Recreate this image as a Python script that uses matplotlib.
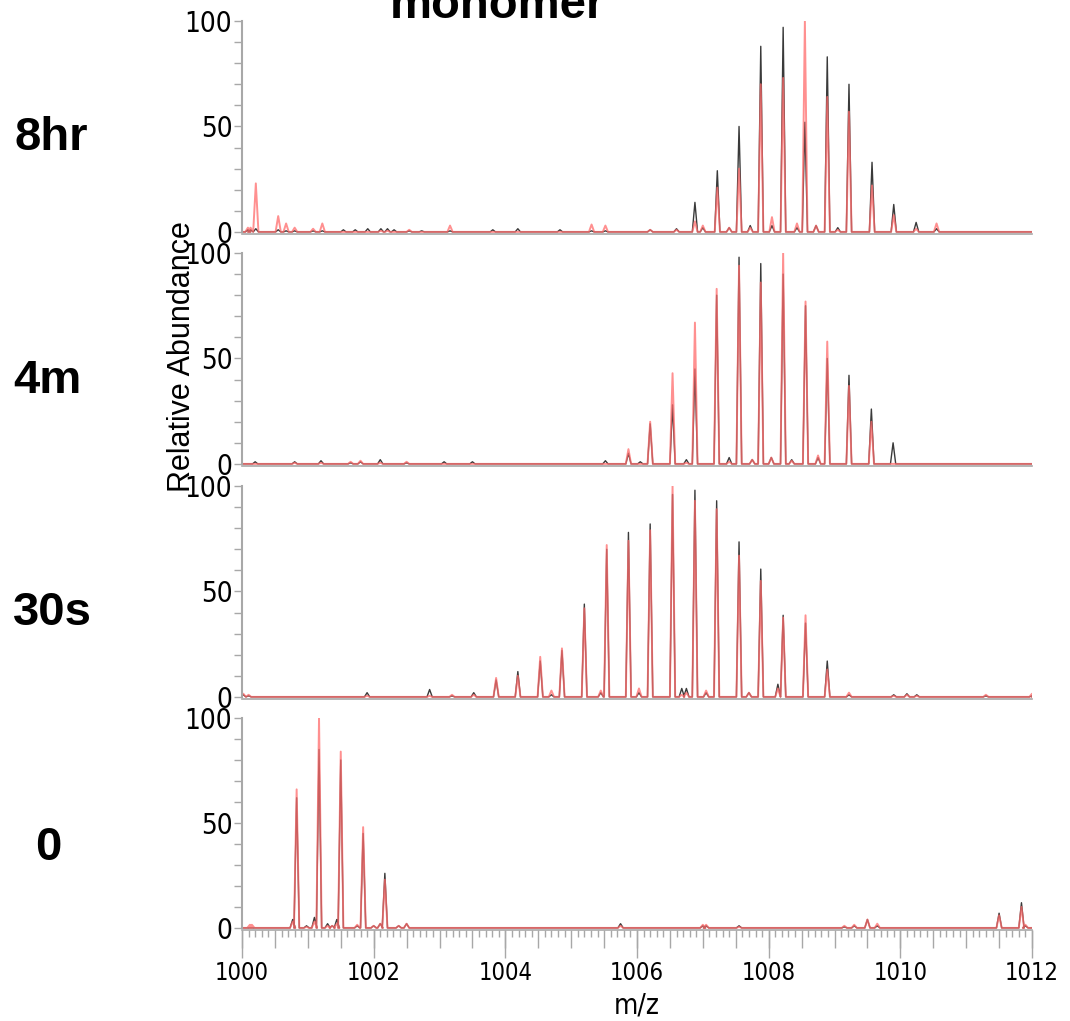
import numpy as np
import matplotlib
matplotlib.use("Agg")
import matplotlib.pyplot as plt
from matplotlib.ticker import MultipleLocator, FuncFormatter

# time points, top to bottom
labels = ["8hr", "4m", "30s", "0"]

# peak lists: m/z, black trace height, red trace height
mz_8hr = [1000.09, 1000.13, 1000.21, 1000.55, 1000.67, 1000.80, 1001.08, 1001.22, 1001.54,
          1001.72, 1001.91, 1002.11, 1002.21, 1002.31, 1002.54, 1002.73, 1003.16, 1003.81,
          1004.19, 1004.83, 1005.31, 1005.52, 1006.20, 1006.60, 1006.88, 1007.00, 1007.22,
          1007.40, 1007.55, 1007.72, 1007.88, 1008.05, 1008.22, 1008.43, 1008.55, 1008.72,
          1008.89, 1009.05, 1009.22, 1009.57, 1009.90, 1010.24, 1010.55]
blk_8hr = [1, 1, 1.5, 1, 0.5, 0.5, 0.5, 0.5, 1, 1, 1.5, 1.5, 1.5, 1, 0.5, 0.5, 0.5, 1, 1.5, 1,
           0.5, 0.5, 1, 1.5, 14, 2, 29, 2, 50, 3, 88, 3, 97, 2, 52, 3, 83, 2, 70, 33, 13, 4.5, 1.5]
red_8hr = [2, 2, 23, 7.5, 4, 2, 1.5, 4, 0, 0, 0, 0.5, 0.5, 0, 1, 0, 3, 0, 0, 0, 3.5, 3, 1, 1,
           5, 3, 21, 2, 30, 2, 70, 7, 73, 4, 100, 3, 64, 1, 57, 22, 8, 1.5, 4]

mz_4m = [1000.20, 1000.80, 1001.20, 1001.65, 1001.80, 1002.10, 1002.50, 1003.07, 1003.50,
         1005.52, 1005.87, 1006.05, 1006.20, 1006.54, 1006.75, 1006.88, 1007.21, 1007.40,
         1007.55, 1007.75, 1007.88, 1008.04, 1008.22, 1008.35, 1008.56, 1008.75, 1008.89,
         1009.22, 1009.56, 1009.89]
blk_4m = [1, 1, 1.5, 0.5, 1, 2, 0.5, 1, 1, 1.5, 5, 1, 19, 28, 2, 45, 80, 3, 98, 2, 95, 3, 90,
          2, 75, 3, 50, 42, 26, 10]
red_4m = [0, 0.5, 0.5, 1, 1.5, 0.5, 1, 0, 0, 0, 7, 0, 20, 43, 0.5, 67, 83, 1, 94, 2, 86, 3,
          100, 1.5, 77, 4, 58, 37, 20, 0]

mz_30s = [1000.02, 1000.10, 1001.90, 1002.85, 1003.19, 1003.52, 1003.86, 1004.19, 1004.53,
          1004.70, 1004.86, 1005.20, 1005.45, 1005.54, 1005.87, 1006.03, 1006.20, 1006.54,
          1006.68, 1006.75, 1006.88, 1007.05, 1007.21, 1007.55, 1007.70, 1007.88, 1008.14,
          1008.22, 1008.56, 1008.89, 1009.22, 1009.90, 1010.10, 1010.25, 1011.30, 1012.00]
blk_30s = [1, 0.5, 2, 3.5, 0.5, 2, 8, 12, 17, 1, 22, 44, 2, 70, 78, 2, 82, 96, 4, 4, 98, 2, 93,
           73.5, 2, 60.6, 6, 38.7, 35, 17, 1, 1, 1.5, 1, 0.5, 0.5]
red_30s = [1.5, 1, 0.5, 0.5, 1, 1, 9, 10, 19, 3, 23, 42, 3, 72, 74, 4, 79, 100, 1, 2, 93, 3,
           89, 67, 2, 55, 4, 37.6, 38.7, 13, 2, 0.5, 1, 0.5, 1, 1.5]

mz_0 = [1000.12, 1000.15, 1000.77, 1000.83, 1000.98, 1001.10, 1001.17, 1001.30, 1001.37,
        1001.44, 1001.50, 1001.75, 1001.84, 1002.00, 1002.10, 1002.17, 1002.38, 1002.50,
        1005.75, 1007.00, 1007.05, 1007.55, 1009.15, 1009.30, 1009.50, 1009.65, 1011.50,
        1011.84, 1011.90]
blk_0 = [0, 0, 4, 62, 1, 5, 85, 2, 1, 4, 80, 1, 45, 1, 2, 26, 1, 2, 2, 1, 1, 1, 0.5, 1, 4, 1,
         7, 12, 1]
red_0 = [1.5, 1.5, 3, 66, 0.5, 3, 100, 1, 1, 2, 84, 1.5, 48, 1, 2, 23, 1, 2, 1, 1.5, 1.5, 0.5,
         1, 1.5, 4, 2, 6, 10, 1.5]

panels = [(mz_8hr, blk_8hr, red_8hr), (mz_4m, blk_4m, red_4m),
          (mz_30s, blk_30s, red_30s), (mz_0, blk_0, red_0)]

xmin, xmax = 1000, 1012
half_w = 0.04

tick_font = dict(family="DejaVu Sans", stretch="condensed")


def profile(mz, h):
    # narrow triangular peaks on a flat baseline
    xs, ys = [xmin], [0]
    for c, v in sorted(zip(mz, h)):
        if v <= 0:
            continue
        xs += [c - half_w, c, c + half_w]
        ys += [0, v, 0]
    xs.append(xmax)
    ys.append(0)
    return np.array(xs), np.array(ys)


W, H = 1070, 1021
fig = plt.figure(figsize=(W / 100, H / 100), dpi=100)

left_px, right_px = 242, 1032
tops = [21, 253, 486, 718]
zeros = [232, 464, 697, 928]
label_pos = [(51, 138), (47, 381), (52, 613), (48, 848)]
gray = "#a8a8a8"

for i, (mz, blk, red) in enumerate(panels):
    top, zero = tops[i], zeros[i]
    bot = zero + 2
    ax = fig.add_axes([left_px / W, 1 - bot / H, (right_px - left_px) / W, (bot - top) / H])
    bx, by = profile(mz, blk)
    rx, ry = profile(mz, red)
    ax.plot(bx, by, color="#3a3a3a", lw=1.0)
    ax.plot(rx, ry, color="#ff6b6b", lw=1.4, alpha=0.75)
    ax.set_xlim(xmin, xmax)
    ax.set_ylim(-1, 100)
    ax.spines["top"].set_visible(False)
    ax.spines["right"].set_visible(False)
    ax.spines["left"].set_bounds(0, 100)
    ax.spines["left"].set_color(gray)
    ax.spines["left"].set_linewidth(1.5)
    ax.spines["bottom"].set_color(gray)
    ax.spines["bottom"].set_linewidth(1.2)
    ax.yaxis.set_major_locator(MultipleLocator(50))
    ax.yaxis.set_minor_locator(MultipleLocator(10))
    ax.tick_params(axis="y", which="both", direction="out", length=6, width=1,
                   color=gray, labelsize=20, pad=1)
    for t in ax.get_yticklabels():
        t.set(**tick_font)
    if i < 3:
        ax.tick_params(axis="x", which="both", bottom=False, labelbottom=False)
    else:
        ax.xaxis.set_major_locator(MultipleLocator(0.5))
        ax.xaxis.set_minor_locator(MultipleLocator(0.1))
        ax.xaxis.set_major_formatter(FuncFormatter(lambda v, p: ""))
        ax.tick_params(axis="x", which="major", length=13, width=1, color=gray)
        ax.tick_params(axis="x", which="minor", length=5, width=1, color=gray)
        sec = ax.secondary_xaxis("bottom")
        sec.spines["bottom"].set_visible(False)
        sec.xaxis.set_major_locator(MultipleLocator(2))
        sec.xaxis.set_major_formatter(FuncFormatter(lambda v, p: "%d" % v))
        sec.tick_params(axis="x", length=20, width=1, color=gray, labelsize=17, pad=2)
        for t in sec.get_xticklabels():
            t.set(**tick_font)
    lx, ly = label_pos[i]
    fig.text(lx / W, 1 - ly / H, labels[i], ha="center", va="center",
             fontsize=34, fontweight="bold", family="Liberation Sans")

fig.text(497 / W, 1 - 18 / H, "monomer", ha="center", va="baseline",
         fontsize=34, fontweight="bold", family="Liberation Sans")
fig.text(182 / W, 1 - 357 / H, "Relative Abundance", ha="center", va="center",
         rotation=90, fontsize=22, family="Liberation Sans")
fig.text(637 / W, 1 - 1005 / H, "m/z", ha="center", va="center",
         fontsize=20, **tick_font)

fig.savefig("out.png", dpi=100)
